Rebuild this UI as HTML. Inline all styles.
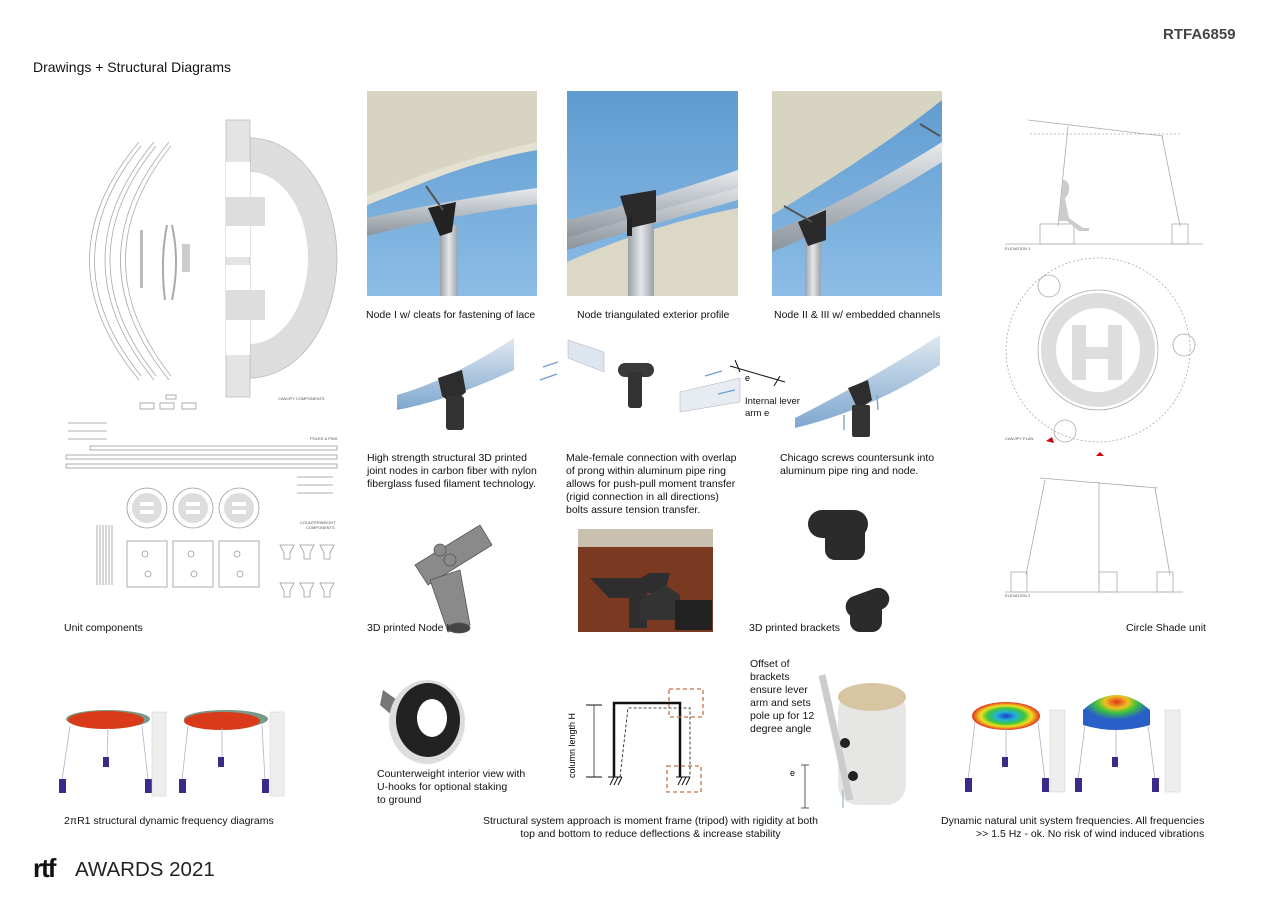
<!DOCTYPE html>
<html><head><meta charset="utf-8">
<style>
*{margin:0;padding:0;box-sizing:border-box}
body{width:1273px;height:900px;background:#fff;position:relative;overflow:hidden;font-family:"Liberation Sans",Arial,sans-serif;color:#111}
.t{position:absolute;font-size:10.5px;line-height:13px;white-space:nowrap}
svg{position:absolute;left:0;top:0}
</style></head><body>
<svg width="1273" height="900" viewBox="0 0 1273 900">
<defs>
<linearGradient id="sky" x1="0" y1="0" x2="0" y2="1"><stop offset="0" stop-color="#5f9bd0"/><stop offset="1" stop-color="#8cbde6"/></linearGradient>
<linearGradient id="pipe" x1="0" y1="0" x2="0" y2="1"><stop offset="0" stop-color="#e8eaec"/><stop offset=".5" stop-color="#b8bec4"/><stop offset="1" stop-color="#8c949c"/></linearGradient>
<linearGradient id="pole" x1="0" y1="0" x2="1" y2="0"><stop offset="0" stop-color="#9aa2aa"/><stop offset=".5" stop-color="#e4e6e8"/><stop offset="1" stop-color="#9aa2aa"/></linearGradient>
<linearGradient id="bar" x1="0" y1="0" x2="0" y2="1"><stop offset="0" stop-color="#dfe8f0"/><stop offset="1" stop-color="#7ea7cf"/></linearGradient>
<radialGradient id="rb"><stop offset="0" stop-color="#1a3cc8"/><stop offset=".3" stop-color="#22b3d8"/><stop offset=".55" stop-color="#3ec43a"/><stop offset=".75" stop-color="#f0e020"/><stop offset="1" stop-color="#e2311e"/></radialGradient>
<radialGradient id="rb2" cx=".5" cy=".2"><stop offset="0" stop-color="#e2311e"/><stop offset=".35" stop-color="#f0c020"/><stop offset=".6" stop-color="#3ec43a"/><stop offset="1" stop-color="#2860c8"/></radialGradient>
</defs>

<g>
<clipPath id="c1"><rect x="367" y="91" width="170" height="205"/></clipPath>
<g clip-path="url(#c1)">
<rect x="367" y="91" width="170" height="205" fill="url(#sky)"/>
<path d="M367 91H537V150Q480 160 430 180L367 205Z" fill="#d8d4c2"/>
<path d="M367 205L430 180Q480 160 537 150V142Q480 155 430 172L367 196Z" fill="#e4e1d2"/>
<path d="M367 218Q450 200 537 188V204Q450 215 367 236Z" fill="url(#pipe)"/>
<rect x="440" y="225" width="18" height="80" fill="url(#pole)"/>
<path d="M428 208L456 202L452 232L440 236Z" fill="#222"/>
<line x1="426" y1="186" x2="443" y2="210" stroke="#555" stroke-width="2"/>
</g>
</g>
<g>
<clipPath id="c2"><rect x="567" y="91" width="171" height="205"/></clipPath>
<g clip-path="url(#c2)">
<rect x="567" y="91" width="171" height="205" fill="url(#sky)"/>
<path d="M567 262Q650 225 738 208V296H567Z" fill="#dcd8c6"/>
<path d="M567 232Q650 210 738 180V200Q650 225 567 250Z" fill="url(#pipe)"/>
<path d="M567 220Q650 200 738 170V188Q650 212 567 238Z" fill="url(#pipe)"/>
<rect x="628" y="212" width="26" height="90" fill="url(#pole)"/>
<path d="M620 196L656 190L656 222L630 228Z" fill="#2a2a2a"/>
<rect x="627" y="218" width="5" height="18" fill="#222"/>
</g>
</g>
<g>
<clipPath id="c3"><rect x="772" y="91" width="170" height="205"/></clipPath>
<g clip-path="url(#c3)">
<rect x="772" y="91" width="170" height="205" fill="url(#sky)"/>
<path d="M772 91H942V100Q880 150 772 215Z" fill="#d8d4c2"/>
<path d="M772 232Q850 200 942 142V162Q850 220 772 252Z" fill="url(#pipe)"/>
<rect x="805" y="230" width="16" height="70" fill="url(#pole)"/>
<path d="M798 222L826 210L826 240L808 246Z" fill="#2a2a2a"/>
<line x1="784" y1="206" x2="812" y2="222" stroke="#555" stroke-width="2"/>
<line x1="920" y1="124" x2="940" y2="136" stroke="#555" stroke-width="2"/>
</g>
</g>

<g fill="none" stroke="#aaa" stroke-width="0.8">
<path d="M139 142Q40 260 139 380"/><path d="M141 146Q48 260 141 376"/>
<path d="M154 142Q56 260 154 380"/><path d="M156 146Q64 260 156 376"/>
<path d="M169 142Q72 260 169 380"/><path d="M171 146Q80 260 171 376"/>
</g>
<path d="M250 138A87 120 0 0 1 250 378Z" fill="#dddddd" stroke="#bbb" stroke-width=".8"/>
<path d="M250 172A58 86 0 0 1 250 344Z" fill="#fff"/>
<rect x="226" y="120" width="24" height="277" fill="#e4e4e4" stroke="#bbb" stroke-width=".8"/>
<rect x="226" y="162" width="24" height="95" fill="#fff"/>
<rect x="226" y="265" width="24" height="90" fill="#fff"/>
<rect x="226" y="197" width="39" height="29" fill="#ddd"/>
<rect x="226" y="290" width="39" height="30" fill="#ddd"/>
<path d="M167 225Q160 260 165 300M172 225Q180 262 172 300" stroke="#aaa" fill="none" stroke-width="2"/>
<rect x="140" y="230" width="3" height="58" fill="#bbb"/>
<rect x="182" y="244" width="8" height="28" fill="#ccc"/>
<g fill="none" stroke="#999" stroke-width=".8">
<rect x="140" y="403" width="14" height="6"/><rect x="160" y="403" width="14" height="6"/><rect x="182" y="403" width="14" height="6"/>
<rect x="166" y="395" width="10" height="4"/>
<rect x="90" y="446" width="247" height="4"/><rect x="66" y="455" width="271" height="4"/><rect x="66" y="464" width="271" height="4"/>
<line x1="68" y1="423" x2="107" y2="423"/><line x1="68" y1="431" x2="107" y2="431"/><line x1="68" y1="439" x2="107" y2="439"/>
<line x1="297" y1="477" x2="333" y2="477"/><line x1="297" y1="485" x2="333" y2="485"/><line x1="297" y1="493" x2="333" y2="493"/>
<circle cx="147" cy="508" r="20"/><circle cx="193" cy="508" r="20"/><circle cx="239" cy="508" r="20"/>
<rect x="127" y="541" width="40" height="46"/><rect x="173" y="541" width="40" height="46"/><rect x="219" y="541" width="40" height="46"/>
<circle cx="145" cy="554" r="3"/><circle cx="148" cy="574" r="3"/><circle cx="191" cy="554" r="3"/><circle cx="194" cy="574" r="3"/><circle cx="237" cy="554" r="3"/><circle cx="240" cy="574" r="3"/>
<path d="M97 525V585M100 525V585M103 525V585M106 525V585M109 525V585M112 525V585"/>
<path d="M280 545h14l-4 8v6h-6v-6zM300 545h14l-4 8v6h-6v-6zM320 545h14l-4 8v6h-6v-6zM280 583h14l-4 8v6h-6v-6zM300 583h14l-4 8v6h-6v-6zM320 583h14l-4 8v6h-6v-6z"/>
</g>
<g fill="#ddd"><circle cx="147" cy="508" r="15"/><circle cx="193" cy="508" r="15"/><circle cx="239" cy="508" r="15"/></g>
<g fill="#fff"><rect x="140" y="502" width="14" height="4"/><rect x="140" y="510" width="14" height="4"/><rect x="186" y="502" width="14" height="4"/><rect x="186" y="510" width="14" height="4"/><rect x="232" y="502" width="14" height="4"/><rect x="232" y="510" width="14" height="4"/></g>
<g fill="#555" font-size="4" font-family="Liberation Sans"><text x="278" y="400">CANOPY COMPONENTS</text><text x="310" y="440">POLES &amp; PINS</text><text x="300" y="524">COUNTERWEIGHT</text><text x="306" y="529">COMPONENTS</text></g>

<path d="M397 395Q450 380 514 338V370Q450 400 397 410Z" fill="url(#bar)"/>
<path d="M438 378L462 370L466 392L452 404L442 396Z" fill="#2d2d2d"/>
<rect x="446" y="396" width="18" height="34" rx="3" fill="#333"/>
<path d="M568 340L604 352V372L568 358Z" fill="#dde6ee" stroke="#aab" stroke-width=".5"/>
<rect x="618" y="363" width="36" height="14" rx="7" fill="#3a3a3a"/>
<rect x="628" y="372" width="14" height="36" rx="3" fill="#333"/>
<path d="M680 392L740 378V402L680 412Z" fill="#e6ecf2" stroke="#aab" stroke-width=".5"/>
<g stroke="#6aa0d0" stroke-width="1.2"><line x1="543" y1="367" x2="558" y2="362"/><line x1="557" y1="374" x2="540" y2="380"/><line x1="705" y1="376" x2="722" y2="371"/><line x1="735" y1="390" x2="718" y2="394"/></g>
<g stroke="#111" stroke-width="1"><line x1="730" y1="366" x2="785" y2="382"/><line x1="735" y1="360" x2="740" y2="372"/><line x1="780" y1="376" x2="774" y2="386"/></g>
<text x="745" y="381" font-size="9" font-family="Liberation Sans">e</text>
<path d="M795 418Q870 380 940 335V365Q870 410 795 428Z" fill="url(#bar)"/>
<path d="M848 388L868 380L872 400L858 410Z" fill="#2d2d2d"/>
<rect x="852" y="405" width="18" height="32" rx="2" fill="#333"/>
<g stroke="#8ab" stroke-width="1.5"><line x1="844" y1="415" x2="844" y2="430"/><line x1="877" y1="395" x2="878" y2="410"/></g>

<g fill="#8a8a8a" stroke="#555" stroke-width=".8">
<path d="M415 565L480 525L492 545L428 585Z"/>
<path d="M430 580L460 570L470 625L448 632Z"/>
<ellipse cx="459" cy="628" rx="11" ry="5" fill="#444"/>
<circle cx="440" cy="550" r="6"/><circle cx="450" cy="560" r="6"/>
</g>
<rect x="578" y="529" width="135" height="103" fill="#7a3a22"/>
<rect x="578" y="529" width="135" height="18" fill="#c9c0b0"/>
<path d="M590 578h50l10 -5h20l-5 20h-18v35h-18v-30h-20z" fill="#2e2e2e"/>
<path d="M640 600l25 -15 15 10v25h-40z" fill="#333"/>
<rect x="675" y="600" width="37" height="30" fill="#222"/>
<g fill="#2b2b2b"><rect x="808" y="510" width="60" height="28" rx="14"/><rect x="825" y="520" width="40" height="40" rx="10"/><rect x="845" y="592" width="45" height="22" rx="11" transform="rotate(-20 867 603)"/><rect x="850" y="598" width="32" height="34" rx="10"/></g>

<g fill="none" stroke="#aaa" stroke-width=".8">
<line x1="1028" y1="120" x2="1163" y2="136"/><line x1="1030" y1="134" x2="1180" y2="134" stroke-dasharray="2 2"/>
<line x1="1068" y1="126" x2="1058" y2="226"/><line x1="1162" y1="136" x2="1180" y2="226"/>
<rect x="1040" y="224" width="34" height="20"/><rect x="1172" y="224" width="16" height="20"/>
<line x1="1005" y1="244" x2="1203" y2="244"/>
<circle cx="1098" cy="350" r="92" stroke-dasharray="2 2"/>
<circle cx="1098" cy="350" r="60"/>
<circle cx="1049" cy="286" r="11"/><circle cx="1184" cy="345" r="11"/><circle cx="1065" cy="431" r="11"/>
<line x1="1040" y1="478" x2="1158" y2="488"/>
<line x1="1045" y1="480" x2="1026" y2="575"/><line x1="1099" y1="482" x2="1099" y2="582"/><line x1="1155" y1="488" x2="1170" y2="575"/>
<rect x="1011" y="572" width="16" height="20"/><rect x="1099" y="572" width="18" height="20"/><rect x="1157" y="572" width="16" height="20"/>
<line x1="1005" y1="592" x2="1183" y2="592"/>
</g>
<path d="M1063 180c8 0 8 14 2 18l4 20 14 10h6v3h-10l-12-10h-8z" fill="#ccc"/>
<circle cx="1098" cy="350" r="57" fill="#ddd"/><circle cx="1098" cy="350" r="42" fill="#fff"/>
<rect x="1072" y="325" width="14" height="55" fill="#ddd"/><rect x="1108" y="325" width="14" height="55" fill="#ddd"/><rect x="1086" y="347" width="22" height="12" fill="#ddd"/>
<path d="M1046 441l6 -4 2 6z" fill="#c00"/><path d="M1096 456l4 -4 4 4z" fill="#c00"/>
<g fill="#555" font-size="4" font-family="Liberation Sans"><text x="1005" y="250">ELEVATION 1</text><text x="1005" y="440">CANOPY PLAN</text><text x="1005" y="597">ELEVATION 2</text></g>

<g>
<ellipse cx="108" cy="719" rx="42" ry="9" fill="#7a9a88"/><ellipse cx="106" cy="720" rx="38" ry="9" fill="#d83a1a"/>
<ellipse cx="226" cy="719" rx="42" ry="9" fill="#7a9a88"/><ellipse cx="222" cy="721" rx="38" ry="9" fill="#d83a1a"/>
<g stroke="#b8b0c8" stroke-width=".8"><line x1="70" y1="726" x2="62" y2="780"/><line x1="108" y1="728" x2="107" y2="760"/><line x1="142" y1="726" x2="148" y2="780"/><line x1="188" y1="726" x2="182" y2="780"/><line x1="222" y1="728" x2="222" y2="760"/><line x1="262" y1="726" x2="265" y2="780"/></g>
<g fill="#3a2a8a"><rect x="103" y="757" width="6" height="10"/><rect x="59" y="779" width="7" height="14"/><rect x="145" y="779" width="7" height="14"/><rect x="218" y="757" width="6" height="10"/><rect x="179" y="779" width="7" height="14"/><rect x="262" y="779" width="7" height="14"/></g>
<rect x="152" y="712" width="14" height="84" fill="#eee" stroke="#ccc" stroke-width=".5"/>
<rect x="270" y="712" width="14" height="84" fill="#eee" stroke="#ccc" stroke-width=".5"/>
</g>
<path d="M383 690L400 702L395 718L380 705Z" fill="#777"/>
<ellipse cx="427" cy="722" rx="38" ry="42" fill="#ddd"/><ellipse cx="428" cy="720" rx="32" ry="37" fill="#222"/><ellipse cx="432" cy="718" rx="15" ry="19" fill="#fff"/>
<g stroke="#111" fill="none">
<line x1="586" y1="705" x2="602" y2="705"/><line x1="586" y1="777" x2="602" y2="777"/><line x1="594" y1="705" x2="594" y2="777" stroke-width=".7"/>
<path d="M614 777V703H680V777" stroke-width="2.5"/>
<path d="M620 777L628 708L690 708V777" stroke-dasharray="3 2" stroke-width=".8"/>
<path d="M608 777h14M676 777h14M610 785l4-8M614 785l4-8M618 785l4-8M678 785l4-8M682 785l4-8M686 785l4-8" stroke-width="1"/>
<rect x="669" y="689" width="34" height="28" stroke="#c87040" stroke-dasharray="4 3" stroke-width="1.3"/>
<rect x="667" y="766" width="34" height="26" stroke="#c87040" stroke-dasharray="4 3" stroke-width="1.3"/>
</g>
<text transform="translate(575 778) rotate(-90)" font-size="9" font-family="Liberation Sans">column length H</text>
<rect x="838" y="690" width="68" height="115" rx="20" fill="#e6e6e4"/>
<ellipse cx="872" cy="697" rx="34" ry="14" fill="#d8c6a2"/>
<line x1="822" y1="675" x2="850" y2="800" stroke="#ccc" stroke-width="7"/>
<circle cx="845" cy="743" r="5" fill="#222"/><circle cx="853" cy="776" r="5" fill="#222"/>
<g stroke="#333" stroke-width=".8"><line x1="805" y1="765" x2="805" y2="808"/><line x1="801" y1="765" x2="809" y2="765"/><line x1="801" y1="808" x2="809" y2="808"/></g>
<text x="790" y="776" font-size="9" font-family="Liberation Sans">e</text>
<line x1="843" y1="790" x2="843" y2="808" stroke="#8ab" stroke-width="1"/>
<ellipse cx="1006" cy="716" rx="34" ry="14" fill="url(#rb)"/>
<path d="M1083 710Q1116 680 1150 710V725Q1116 735 1083 725Z" fill="url(#rb2)"/>
<g stroke="#b8b0c8" stroke-width=".8"><line x1="975" y1="722" x2="968" y2="780"/><line x1="1006" y1="728" x2="1006" y2="760"/><line x1="1038" y1="722" x2="1045" y2="780"/><line x1="1085" y1="725" x2="1078" y2="780"/><line x1="1116" y1="730" x2="1116" y2="760"/><line x1="1148" y1="725" x2="1155" y2="780"/></g>
<g fill="#3a2a8a"><rect x="1002" y="757" width="6" height="10"/><rect x="965" y="778" width="7" height="14"/><rect x="1042" y="778" width="7" height="14"/><rect x="1112" y="757" width="6" height="10"/><rect x="1075" y="778" width="7" height="14"/><rect x="1152" y="778" width="7" height="14"/></g>
<rect x="1050" y="710" width="15" height="82" fill="#eee" stroke="#ccc" stroke-width=".5"/>
<rect x="1165" y="710" width="15" height="82" fill="#eee" stroke="#ccc" stroke-width=".5"/>
</svg>

<div class="t" style="left:1163px;top:28px;font-size:15px;font-weight:bold;color:#444">RTFA6859</div>
<div class="t" style="left:33px;top:59px;font-size:14px;line-height:16px">Drawings + Structural Diagrams</div>
<div class="t" style="left:366px;top:309px">Node I w/ cleats for fastening of lace</div>
<div class="t" style="left:577px;top:309px">Node triangulated exterior profile</div>
<div class="t" style="left:774px;top:309px">Node II &amp; III w/ embedded channels</div>
<div class="t" style="left:745px;top:396px;font-size:9.5px;line-height:12px">Internal lever<br>arm e</div>
<div class="t" style="left:367px;top:452px">High strength structural 3D printed<br>joint nodes in carbon fiber with nylon<br>fiberglass fused filament technology.</div>
<div class="t" style="left:566px;top:452px">Male-female connection with overlap<br>of prong within aluminum pipe ring<br>allows for push-pull moment transfer<br>(rigid connection in all directions)<br>bolts assure tension transfer.</div>
<div class="t" style="left:780px;top:452px">Chicago screws countersunk into<br>aluminum pipe ring and node.</div>
<div class="t" style="left:64px;top:622px">Unit components</div>
<div class="t" style="left:367px;top:622px">3D printed Node I</div>
<div class="t" style="left:749px;top:622px">3D printed brackets</div>
<div class="t" style="left:1126px;top:622px">Circle Shade unit</div>
<div class="t" style="left:750px;top:658px">Offset of<br>brackets<br>ensure lever<br>arm and sets<br>pole up for 12<br>degree angle</div>
<div class="t" style="left:377px;top:768px">Counterweight interior view with<br>U-hooks for optional staking<br>to ground</div>
<div class="t" style="left:64px;top:815px">2πR1 structural dynamic frequency diagrams</div>
<div class="t" style="left:483px;top:815px;text-align:center">Structural system approach is moment frame (tripod) with rigidity at both<br>top and bottom to reduce deflections &amp; increase stability</div>
<div class="t" style="left:941px;top:815px;text-align:right">Dynamic natural unit system frequencies. All frequencies<br>&gt;&gt; 1.5 Hz - ok. No risk of wind induced vibrations</div>
<div class="t" style="left:33px;top:853px;font-size:26px;line-height:30px;font-weight:bold;letter-spacing:-2px">rtf</div>
<div class="t" style="left:75px;top:857px;font-size:20.5px;line-height:26px;color:#222">AWARDS 2021</div>
</body></html>
